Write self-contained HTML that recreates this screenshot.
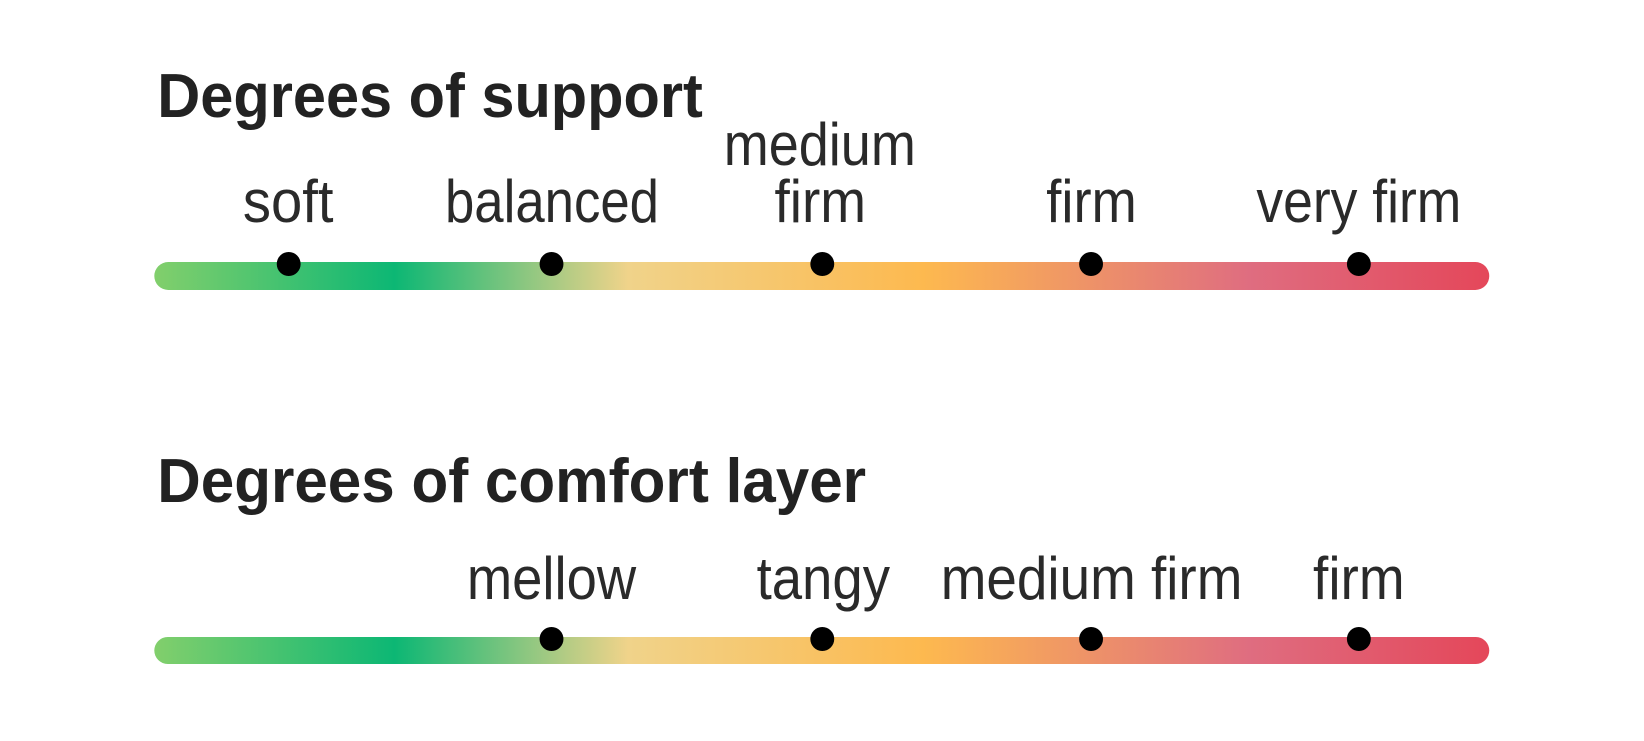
<!DOCTYPE html>
<html><head><meta charset="utf-8"><style>html,body{margin:0;padding:0;background:#fff}svg{display:block}</style></head>
<body>
<svg width="1644" height="741" viewBox="0 0 1644 741" xmlns="http://www.w3.org/2000/svg">
<defs>
<linearGradient id="g" x1="0" x2="1" y1="0" y2="0">
<stop offset="0" stop-color="#82cf6c"/>
<stop offset="0.18" stop-color="#0cb774"/>
<stop offset="0.355" stop-color="#f0d38a"/>
<stop offset="0.576" stop-color="#fdb94f"/>
<stop offset="0.82" stop-color="#df6d80"/>
<stop offset="1" stop-color="#e4475a"/>
</linearGradient>
</defs>
<g transform="translate(0,-1) scale(0.9955,1)">
<g font-family="Liberation Sans, sans-serif" fill="#222">
<text x="158" y="118" font-size="62" font-weight="bold" textLength="548" lengthAdjust="spacingAndGlyphs">Degrees of support</text>
<text x="158" y="503" font-size="62" font-weight="bold" textLength="712" lengthAdjust="spacingAndGlyphs">Degrees of comfort layer</text>
<g font-size="60" fill="#2a2a2a">
<text x="244" y="223" textLength="91" lengthAdjust="spacingAndGlyphs">soft</text>
<text x="447" y="223" textLength="215" lengthAdjust="spacingAndGlyphs">balanced</text>
<text x="727" y="166" textLength="193" lengthAdjust="spacingAndGlyphs">medium</text>
<text x="778" y="223" textLength="92" lengthAdjust="spacingAndGlyphs">firm</text>
<text x="1051" y="223" textLength="91" lengthAdjust="spacingAndGlyphs">firm</text>
<text x="1262" y="223" textLength="206" lengthAdjust="spacingAndGlyphs">very firm</text>
<text x="469" y="600" textLength="170" lengthAdjust="spacingAndGlyphs">mellow</text>
<text x="760" y="600" textLength="134" lengthAdjust="spacingAndGlyphs">tangy</text>
<text x="945" y="600" textLength="303" lengthAdjust="spacingAndGlyphs">medium firm</text>
<text x="1319" y="600" textLength="92" lengthAdjust="spacingAndGlyphs">firm</text>
</g>
</g>
<rect x="155" y="263" width="1341" height="28" rx="14" fill="url(#g)"/>
<rect x="155" y="638" width="1341" height="27" rx="13.5" fill="url(#g)"/>
<g fill="#000">
<circle cx="290" cy="265" r="12"/>
<circle cx="554" cy="265" r="12"/>
<circle cx="826" cy="265" r="12"/>
<circle cx="1096" cy="265" r="12"/>
<circle cx="1365" cy="265" r="12"/>
<circle cx="554" cy="640" r="12"/>
<circle cx="826" cy="640" r="12"/>
<circle cx="1096" cy="640" r="12"/>
<circle cx="1365" cy="640" r="12"/>
</g>
</g>
</svg>
</body></html>
